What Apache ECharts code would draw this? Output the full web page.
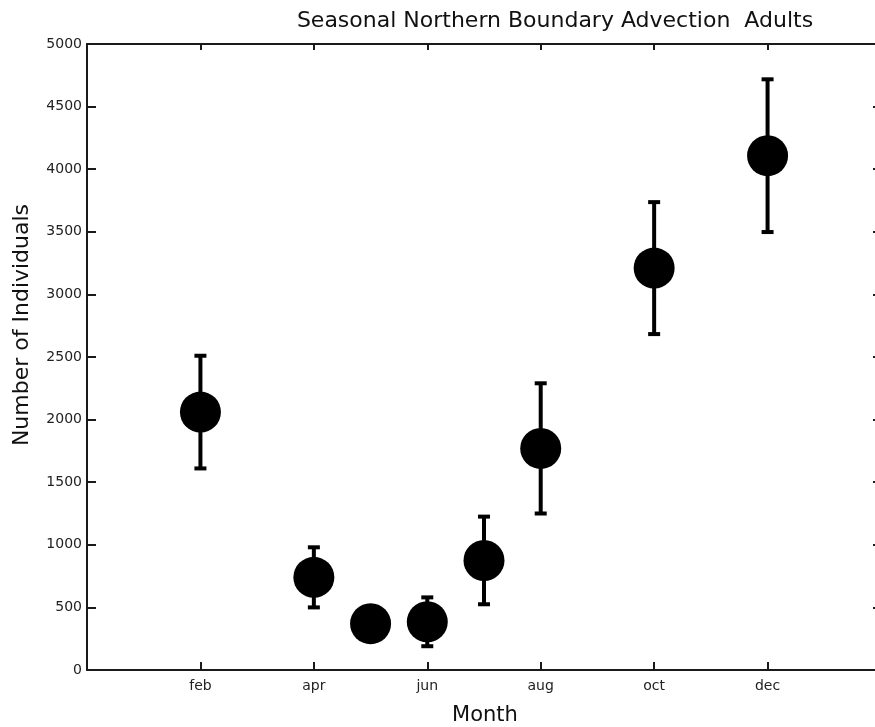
<!DOCTYPE html>
<html>
<head>
<meta charset="utf-8">
<script src="https://cdn.jsdelivr.net/npm/echarts@6/dist/echarts.min.js"></script>
<style>
html,body{margin:0;padding:0;background:#fff;}
#chart{width:875px;height:727px;}
</style>
</head>
<body>
<div id="chart"></div>
<script>
// ---- data ----
const monthPos = [2, 4, 5, 6, 7, 8, 10, 12];
const meanValues = [2060, 740, 370, 385, 875, 1770, 3210, 4108];
const errValues = [450, 240, 120, 195, 350, 520, 527, 610];
const xTickValues = [0, 2, 4, 6, 8, 10, 12, 14];
const xTickNames = ['', 'feb', 'apr', 'jun', 'aug', 'oct', 'dec', ''];
const yTickLabels = ['0','500','1000','1500','2000','2500','3000','3500','4000','4500','5000'];
const titleText = 'Seasonal Northern Boundary Advection  Adults';
const xTitle = 'Month';
const yTitle = 'Number of Individuals';

const FONT = 'DejaVu Sans';
const pts = monthPos.map((m, i) => [m, meanValues[i]]);
const errData = monthPos.map((m, i) => [m, meanValues[i] - errValues[i], meanValues[i] + errValues[i]]);
const tickNameMap = {};
xTickValues.forEach((v, i) => { tickNameMap[v] = xTickNames[i]; });

const chart = echarts.init(document.getElementById('chart'), null, {renderer: 'canvas'});
const axisLineStyle = {color: '#1a1a1a', width: 2};
const tickStyle = {color: '#1a1a1a', width: 2};

chart.setOption({
  backgroundColor: '#ffffff',
  animation: false,
  grid: {left: 87, top: 44, width: 794, height: 626, containLabel: false, outerBoundsMode: 'none'},
  xAxis: [{
    type: 'value', min: 0, max: 14, interval: 2, position: 'bottom',
    axisLine: {show: true, onZero: false, lineStyle: axisLineStyle},
    axisTick: {show: true, inside: true, length: 8, lineStyle: tickStyle},
    splitLine: {show: false},
    axisLabel: {
      show: true, margin: 9, color: '#222', fontFamily: FONT, fontSize: 14,
      formatter: v => tickNameMap[v] || ''
    }
  }, {
    type: 'value', min: 0, max: 14, interval: 2, position: 'top',
    axisLine: {show: true, onZero: false, lineStyle: axisLineStyle},
    axisTick: {show: true, inside: true, length: 6, lineStyle: tickStyle},
    splitLine: {show: false}, axisLabel: {show: false}
  }],
  yAxis: [{
    type: 'value', min: 0, max: 5000, interval: 500, position: 'left',
    axisLine: {show: true, onZero: false, lineStyle: axisLineStyle},
    axisTick: {show: true, inside: true, length: 9, lineStyle: tickStyle},
    splitLine: {show: false},
    axisLabel: {
      show: true, margin: 5, color: '#222', fontFamily: FONT, fontSize: 14,
      formatter: v => yTickLabels[Math.round(v / 500)]
    }
  }, {
    type: 'value', min: 0, max: 5000, interval: 500, position: 'right',
    axisLine: {show: true, onZero: false, lineStyle: axisLineStyle},
    axisTick: {show: true, inside: true, length: 8, lineStyle: tickStyle},
    splitLine: {show: false}, axisLabel: {show: false}
  }],
  graphic: [
    {type: 'text', x: 555, y: 21, style: {text: titleText, font: '22px "' + FONT + '"', fill: '#111', textAlign: 'center', textVerticalAlign: 'middle'}},
    {type: 'text', x: 485, y: 716, style: {text: xTitle, font: '21px "' + FONT + '"', fill: '#111', textAlign: 'center', textVerticalAlign: 'middle'}},
    {type: 'text', x: 22, y: 325, rotation: Math.PI / 2, style: {text: yTitle, font: '22px "' + FONT + '"', fill: '#111', textAlign: 'center', textVerticalAlign: 'middle'}}
  ],
  series: [{
    type: 'custom',
    xAxisIndex: 0, yAxisIndex: 0,
    data: errData,
    z: 2,
    renderItem: function (params, api) {
      const x = api.value(0);
      const lo = api.coord([x, api.value(1)]);
      const hi = api.coord([x, api.value(2)]);
      const cap = 6;
      const st = {stroke: '#000', lineWidth: 4};
      return {
        type: 'group',
        children: [
          {type: 'line', shape: {x1: lo[0], y1: lo[1], x2: hi[0], y2: hi[1]}, style: st},
          {type: 'line', shape: {x1: hi[0] - cap, y1: hi[1], x2: hi[0] + cap, y2: hi[1]}, style: st},
          {type: 'line', shape: {x1: lo[0] - cap, y1: lo[1], x2: lo[0] + cap, y2: lo[1]}, style: st}
        ]
      };
    }
  }, {
    type: 'scatter',
    xAxisIndex: 0, yAxisIndex: 0,
    data: pts,
    symbol: 'circle',
    symbolSize: 41,
    itemStyle: {color: '#000', opacity: 1},
    z: 3
  }]
});
</script>
</body>
</html>
